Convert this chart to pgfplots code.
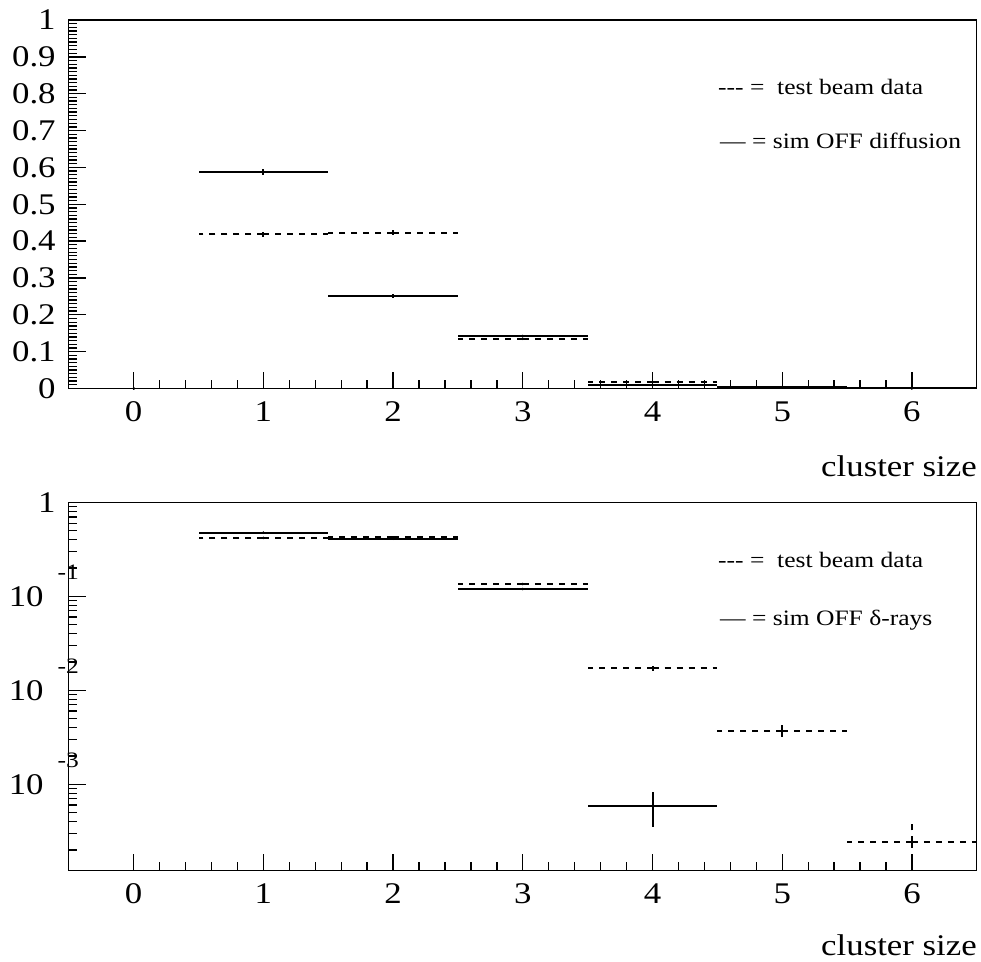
\documentclass[border=0pt]{standalone}
\usepackage{fontspec}
\setmainfont{Liberation Serif}[FakeStretch=1.16]
\usepackage{pgfplots}
\pgfplotsset{compat=1.18}

\newcommand{\tickfont}{\fontsize{30bp}{36bp}\selectfont}
\newcommand{\legfont}{\fontsize{22bp}{26bp}\selectfont}
\newcommand{\expo}[1]{10\makebox[12bp][l]{\hspace{14bp}\raisebox{27bp}[0pt][0pt]{\fontsize{22bp}{22bp}\selectfont #1}}}

\pgfplotsset{
  rootaxis/.style={
    scale only axis,
    width=908bp,
    xmin=-0.5, xmax=6.5,
    xtick={0,1,2,3,4,5,6},
    minor x tick num=4,
    xtick pos=left, ytick pos=left,
    tick align=inside,
    major tick length=17bp,
    minor tick length=8.5bp,
    every tick/.style={black, line width=1.3bp},
    axis line style={line width=1.3bp},
    tick label style={font=\tickfont},
    /pgf/number format/assume math mode=true,
    xticklabel style={inner sep=0pt, anchor=north, yshift=-13bp},
    yticklabel style={inner sep=0pt, anchor=east, xshift=-13bp},
    clip=true,
  },
  databar/.style={
    only marks, mark=*, mark size=1.1bp, black,
    error bars/.cd, x dir=both, x explicit, y dir=both, y explicit,
    error mark=none,
    error bar style={line width=2bp, black, dash pattern=on 6bp off 6bp},
  },
  simbar/.style={
    only marks, mark=*, mark size=1.1bp, black,
    error bars/.cd, x dir=both, x explicit, y dir=both, y explicit,
    error mark=none,
    error bar style={line width=2bp, black, solid},
  },
}

\begin{document}
\begin{tikzpicture}
\useasboundingbox (0,0) rectangle (981bp,-962bp);

% ---------- top panel (linear) ----------
\begin{axis}[rootaxis,
  at={(68.8bp,-388.5bp)}, anchor=south west,
  height=368.5bp,
  ymin=0, ymax=1,
  ytick={0,0.1,0.2,0.3,0.4,0.5,0.6,0.7,0.8,0.9,1},
  yticklabels={0,0.1,0.2,0.3,0.4,0.5,0.6,0.7,0.8,0.9,1},
  minor y tick num=9,
]
\addplot[databar] table[x=x, y=y, x error=ex, y error=ey] {
x y ex ey
0 0 0.5 0
1 0.418 0.5 0.0058
2 0.423 0.5 0.0058
3 0.135 0.5 0.0033
4 0.0171 0.5 0.0012
5 0.0037 0.5 0.00055
6 0.00024 0.5 0.00014
};
\addplot[simbar] table[x=x, y=y, x error=ex, y error=ey] {
x y ex ey
0 0 0.5 0
1 0.588 0.5 0.0077
2 0.251 0.5 0.005
3 0.1425 0.5 0.0038
4 0.009 0.5 0.00095
5 0.004 0.5 0.0006
6 0.001 0.5 0.0003
};
\end{axis}

% ---------- bottom panel (log) ----------
\begin{axis}[rootaxis,
  at={(68.8bp,-870.7bp)}, anchor=south west,
  height=368.4bp,
  ymode=log,
  ymin=1.2e-4, ymax=1,
  ytick={1e-3,1e-2,1e-1,1},
  yticklabels={\expo{-3},\expo{-2},\expo{-1},1},
  minor ytick={2e-4,3e-4,4e-4,5e-4,6e-4,7e-4,8e-4,9e-4,
               2e-3,3e-3,4e-3,5e-3,6e-3,7e-3,8e-3,9e-3,
               2e-2,3e-2,4e-2,5e-2,6e-2,7e-2,8e-2,9e-2,
               0.2,0.3,0.4,0.5,0.6,0.7,0.8,0.9},
]
\addplot[databar] table[x=x, y=y, x error=ex, y error=ey] {
x y ex ey
1 0.418 0.5 0.0058
2 0.423 0.5 0.0058
3 0.135 0.5 0.0033
4 0.0171 0.5 0.0012
5 0.0037 0.5 0.00055
6 0.00024 0.5 0.00014
};
\addplot[simbar] table[x=x, y=y, x error=ex, y error=ey] {
x y ex ey
1 0.475 0.5 0.0068
2 0.41 0.5 0.0063
3 0.1196 0.5 0.0034
4 0.00059 0.5 0.00024
};
\end{axis}

% legends and axis titles
\node[anchor=base west, inner sep=0pt, font=\legfont] at (718bp,-94bp) {-\kern0pt-\kern0pt- =\ \ test beam data};
\node[anchor=base west, inner sep=0pt, font=\legfont] at (720bp,-148bp) {— = sim OFF diffusion};
\node[anchor=base west, inner sep=0pt, font=\legfont] at (718bp,-567.7bp) {-\kern0pt-\kern0pt- =\ \ test beam data};
\node[anchor=base west, inner sep=0pt, font=\legfont] at (720bp,-625bp) {— = sim OFF δ-rays};

\node[anchor=base east, inner sep=0pt, font=\tickfont] at (977bp,-476bp) {cluster size};
\node[anchor=base east, inner sep=0pt, font=\tickfont] at (977bp,-955bp) {cluster size};
\end{tikzpicture}
\end{document}
